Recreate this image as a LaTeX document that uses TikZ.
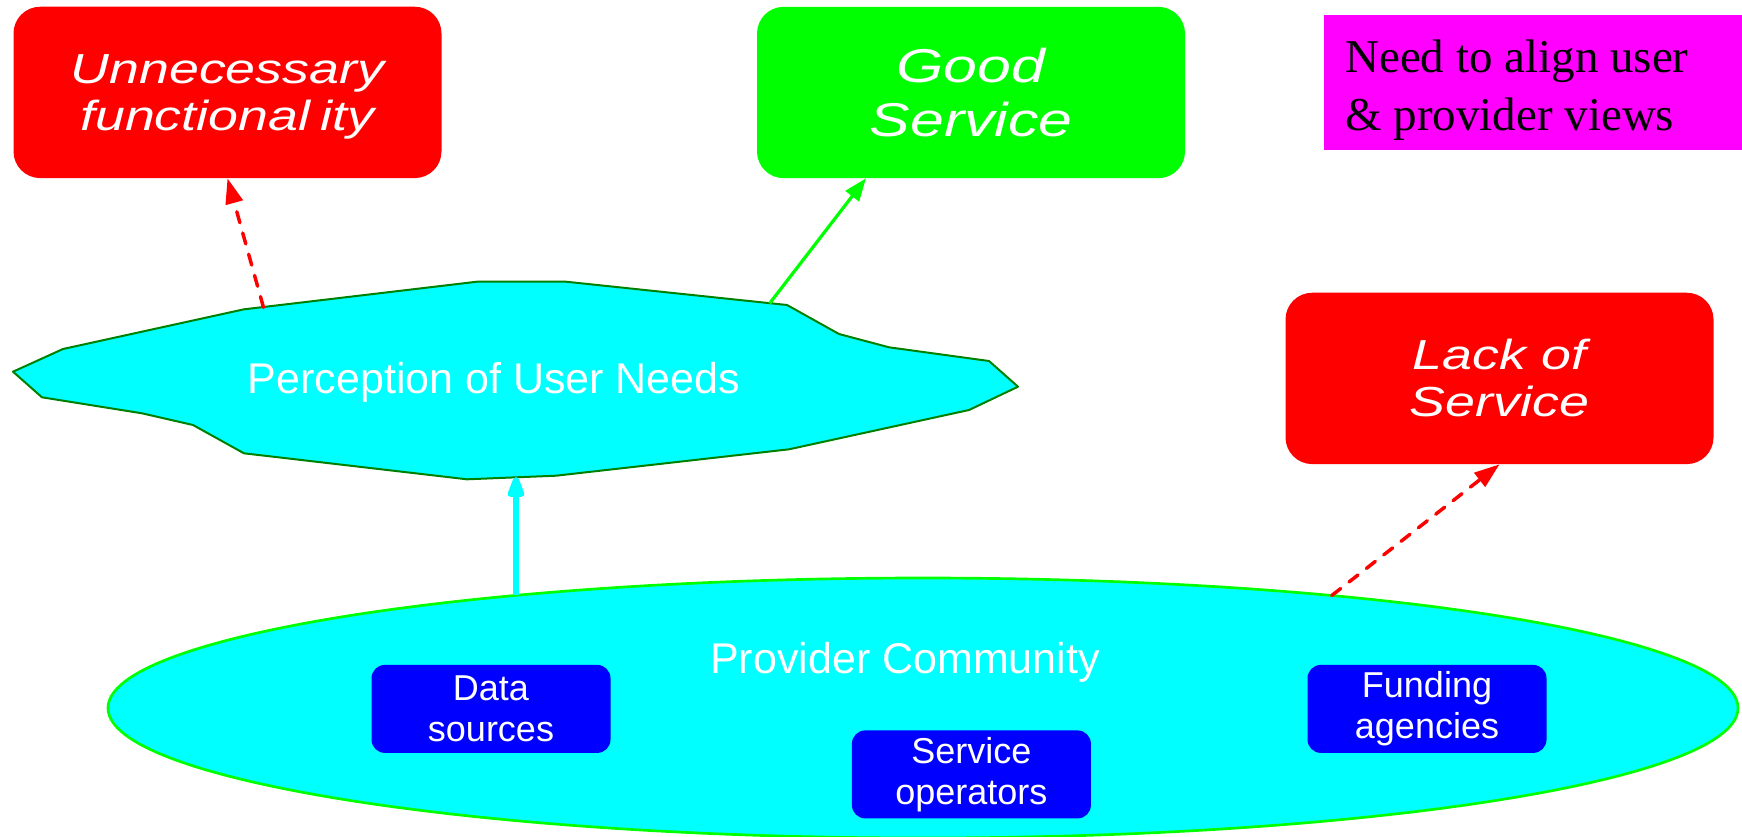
\documentclass[tikz,border=0pt]{standalone}
\usepackage{fontspec}
\setmainfont{Liberation Sans}
\newfontfamily\wideit{Liberation Sans}[FakeStretch=1.28]
\newfontfamily\serifnote{Liberation Serif}
\usetikzlibrary{shapes.geometric,arrows.meta}
\definecolor{redc}{RGB}{255,0,0}
\definecolor{greenc}{RGB}{0,255,0}
\definecolor{magc}{RGB}{255,0,255}
\definecolor{cyanc}{RGB}{0,255,255}
\definecolor{bluec}{RGB}{0,0,255}
\definecolor{darkgr}{RGB}{0,128,0}
\begin{document}
\begin{tikzpicture}[x=0.75pt,y=-0.75pt,
  bigbox/.style={rectangle, rounded corners=20pt, minimum width=321pt, minimum height=128.5pt, inner sep=0pt, align=center, text=white},
  redbox/.style={bigbox, fill=redc, font=\wideit\itshape\fontsize{31.5}{35.25}\selectfont},
  goodbox/.style={bigbox, fill=greenc, font=\wideit\itshape\fontsize{35.6}{40.5}\selectfont},
  bluebox/.style={rectangle, rounded corners=10pt, fill=bluec, minimum width=179.25pt, minimum height=66pt, inner sep=0pt, align=center, text=white, font=\fontsize{27}{30.5}\selectfont},
  bigtext/.style={anchor=base, inner sep=0pt, text=white, font=\fontsize{32.25}{38}\selectfont},
  redarrow/.style={draw=redc, line width=2.6pt, dash pattern=on 8.5pt off 8pt, line cap=round, -{Triangle[length=19pt,width=13pt]}},
  greenarrow/.style={draw=greenc, line width=2.4pt, -{Triangle[length=17pt,width=12.5pt]}},
  cyanarrow/.style={draw=cyanc, line width=4.5pt, -{Triangle[length=20pt,width=13pt,round]}}
]
\path[use as bounding box] (0,0) rectangle (1742,836);

% top boxes
\node[redbox] (unn) at (227.5,92.4) {\rule{0pt}{28.5pt}Unnecessary\\functional\kern8pt ity};
\node[goodbox] (good) at (971,92.5) {Good\\Service};
\node[redbox] (lack) at (1499.5,378.4) {Lack of\\Service};
\node[fill=magc, minimum width=313.5pt, minimum height=101.25pt, inner sep=0pt, anchor=north west] (note) at (1324,15) {};
\node[anchor=north west, inner sep=0pt, align=left, text=black, font=\serifnote\fontsize{35.25}{43.5}\selectfont] (notetext) at (1345,40) {Need to align user\\\& provider views};

% provider community ellipse
\node[ellipse, draw=greenc, line width=2pt, fill=cyanc, minimum width=1222.5pt, minimum height=195pt, inner sep=0pt] (prov) at (923,708) {};
\node[bigtext] (provtext) at (905,673) {Provider Community};
\node[bluebox] (data) at (491,708.9) {Data\\sources};
\node[bluebox] (ops) at (971.4,774.4) {Service\\operators};
\node[bluebox] (fund) at (1427,708.9) {Funding\\agencies};

% perception polygon
\draw[draw=darkgr, line width=1.5pt, fill=cyanc, line join=round]
  (13,371.7) -- (63,349) -- (244,309.3) -- (477,281.7) -- (566,281.7) -- (787,305)
  -- (839,334) -- (889,347.3) -- (989,361) -- (1018,386.7) -- (969,410) -- (789,449.3)
  -- (556,475.7) -- (467,479.3) -- (244,453.3) -- (193,425) -- (142,413.3) -- (42,397.3) -- cycle;
\node[bigtext] (perctext) at (494,393) {Perception of User Needs};

% connector end points
\coordinate (percTL) at (263.5,307.5);
\coordinate (percTR) at (769.7,303.3);
\coordinate (percB) at (516,477);
\coordinate (provA) at (516,595);
\coordinate (provB) at (1331.7,595.5);
\coordinate (goodIn) at (866,178.3);

% connectors
\draw[redarrow] (percTL) -- (unn.south);
\draw[greenarrow] (percTR) -- (goodIn);
\draw[cyanarrow] (provA) -- (percB);
\draw[redarrow] (provB) -- (lack.south);
\end{tikzpicture}
\end{document}
